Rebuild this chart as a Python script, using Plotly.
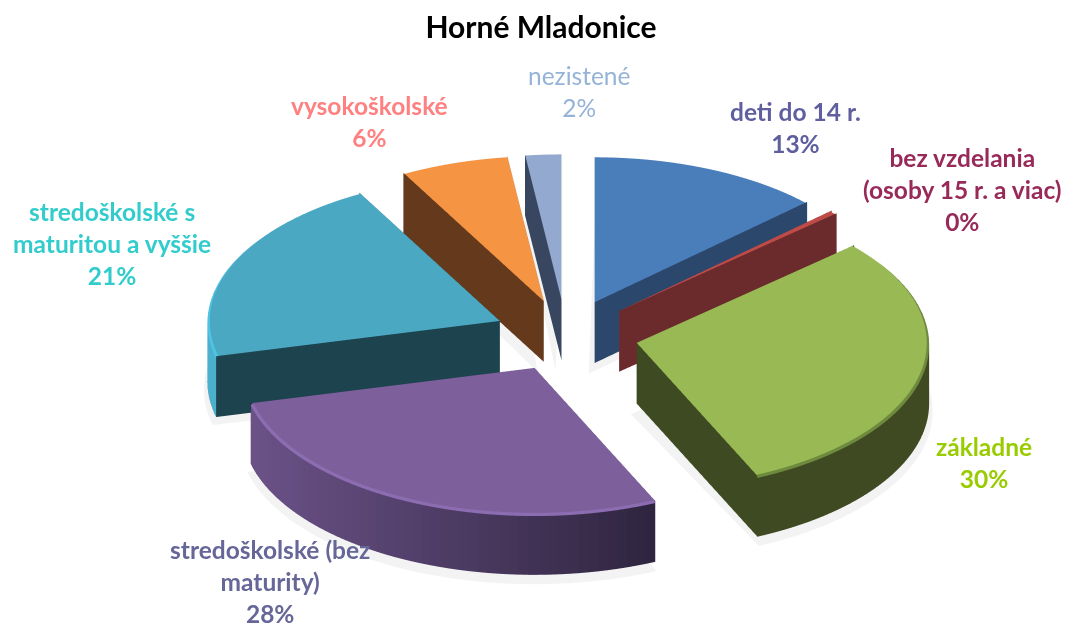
import math
import plotly.graph_objects as go

TITLE = "Horné Mladonice"
CATEGORIES = ["deti do 14 r.", "bez vzdelania<br>(osoby 15 r. a viac)", "základné",
              "stredoškolské (bez<br>maturity)", "stredoškolské s<br>maturitou a vyššie",
              "vysokoškolské", "nezistené"]
VALUES = [13.0, 0.4, 30.0, 28.0, 21.0, 6.0, 2.0]
PERCENT_LABELS = ["13%", "0%", "30%", "28%", "21%", "6%", "2%"]
TOP_COLORS = ["#4A7EBB", "#BE4B48", "#98B954", "#7D5F9B", "#4AA8C2", "#F59443", "#93A9CF"]
RIM_COLORS = ["#4A7EBB", "#BE4B48", "#6E8A3E", "#8C6DB2", "#4FC3E3", "#F59443", "#93A9CF"]
CUT_COLORS = ["#2B476C", "#6B2A2C", "#3E4A22", "#3A2A50", "#1D434E", "#65391B", "#394660"]
SIDE_LEFT = ["#2B476C", "#6B2A2C", "#3F4A22", "#6C5389", "#4AB0CC", "#65391B", "#394660"]
SIDE_RIGHT = ["#2B476C", "#6B2A2C", "#3F4A22", "#2F2540", "#4AB0CC", "#65391B", "#394660"]
SHADOW_COLOR = "#F3F3F3"
LABEL_COLORS = ["#5F5F9F", "#982A5A", "#99CC00", "#666699", "#33CCCC", "#FF8080", "#95B3D7"]
LABEL_BOLD = [True, True, True, True, True, True, False]
LABEL_POS = [(795, 128), (962, 189), (984, 462), (270, 581), (112, 244), (369, 122), (579, 91)]

RADIUS, HEIGHT, EXPLODE, RIM = 1.0, 0.24, 0.247, 0.008
SEG = 2  # degrees per side segment


def rgb(h):
    return [int(h[i:i + 2], 16) for i in (1, 3, 5)]


def mix(h1, h2, t):
    t = min(1.0, max(0.0, t))
    return "rgb(%d,%d,%d)" % tuple(round(a + (b - a) * t) for a, b in zip(rgb(h1), rgb(h2)))


def wedge(a0, a1, top, rim, cut, left, right):
    mid = math.radians((a0 + a1) / 2)
    ox, oy = EXPLODE * math.sin(mid), EXPLODE * math.cos(mid)
    n = max(2, int((a1 - a0) / SEG) + 1)
    ang = [math.radians(a0 + (a1 - a0) * k / n) for k in range(n + 1)]
    X, Y, Z, I, J, K, C = [], [], [], [], [], [], []

    def tri(p, q, r, col):
        b = len(X)
        for v in (p, q, r):
            X.append(v[0] + ox)
            Y.append(v[1] + oy)
            Z.append(v[2])
        I.append(b); J.append(b + 1); K.append(b + 2); C.append(col)

    def pt(a, r, z):
        return (r * math.sin(a), r * math.cos(a), z)

    o_t, o_b = (0, 0, HEIGHT), (0, 0, 0)
    r_in = RADIUS - RIM
    zs = HEIGHT - RIM
    zsh, rsh = -0.03, RADIUS + 0.012
    for a, b in zip(ang, ang[1:]):
        tri(o_t, pt(a, r_in, HEIGHT), pt(b, r_in, HEIGHT), top)
        tri(pt(a, r_in, HEIGHT), pt(b, r_in, HEIGHT), pt(b, RADIUS, zs), rim)
        tri(pt(a, r_in, HEIGHT), pt(b, RADIUS, zs), pt(a, RADIUS, zs), rim)
        s = math.sin((a + b) / 2)
        col = mix(left, right, (s + 1) / 1.4)
        tri(pt(a, RADIUS, zs), pt(b, RADIUS, zs), pt(b, RADIUS, 0), col)
        tri(pt(a, RADIUS, zs), pt(b, RADIUS, 0), pt(a, RADIUS, 0), col)
        tri(o_b, pt(a, RADIUS, 0), pt(b, RADIUS, 0), cut)
        tri((-0.02, -0.02, zsh), pt(a, rsh, zsh), pt(b, rsh, zsh), SHADOW_COLOR)
    for a in (ang[0], ang[-1]):
        tri(o_t, o_b, pt(a, RADIUS, 0), cut)
        tri(o_t, pt(a, RADIUS, 0), pt(a, RADIUS, HEIGHT), cut)
    return X, Y, Z, I, J, K, C


fig = go.Figure()
total = sum(VALUES)
start = 0.0
for name, val, top, rim, cut, left, right in zip(CATEGORIES, VALUES, TOP_COLORS, RIM_COLORS, CUT_COLORS,
                                                 SIDE_LEFT, SIDE_RIGHT):
    end = start + val / total * 360
    x, y, z, i, j, k, c = wedge(start, end, top, rim, cut, left, right)
    fig.add_trace(go.Mesh3d(x=x, y=y, z=z, i=i, j=j, k=k, facecolor=c, flatshading=True,
                            lighting=dict(ambient=1, diffuse=0, specular=0, fresnel=0, roughness=1),
                            name=name.replace("<br>", " "), hoverinfo="name", showscale=False))
    start = end

hidden = dict(visible=False, showgrid=False, zeroline=False, showbackground=False)
anns = []
for cat, pct, col, bold, (px, py) in zip(CATEGORIES, PERCENT_LABELS, LABEL_COLORS, LABEL_BOLD, LABEL_POS):
    t = f"{cat}<br>{pct}"
    if bold:
        t = "<b>" + t.replace("<br>", "</b><br><b>") + "</b>"
    anns.append(dict(text=t, x=px / 1068, y=1 - py / 624, xref="paper", yref="paper", showarrow=False,
                     font=dict(family="Lato, Carlito, sans-serif", size=24.5, color=col), align="center",
                     xanchor="center", yanchor="middle"))

fig.update_layout(
    width=1068, height=624, margin=dict(l=0, r=0, t=0, b=0), showlegend=False,
    paper_bgcolor="white",
    title=dict(text="<b>" + TITLE + "</b>", x=541 / 1068, y=1 - 27 / 624, xanchor="center", yanchor="middle",
               font=dict(family="Lato, Carlito, sans-serif", size=30, color="black")),
    annotations=anns,
    scene=dict(
        domain=dict(x=[0.06, 1], y=[0, 0.923]),
        xaxis=dict(hidden, range=[-1.3, 1.3]), yaxis=dict(hidden, range=[-1.3, 1.3]),
        zaxis=dict(hidden, range=[-0.5, 0.8]),
        aspectmode="manual", aspectratio=dict(x=2.64, y=2.64, z=1.32),
        camera=dict(eye=dict(x=0, y=-1.0, z=0.666), center=dict(x=0, y=0, z=0.089), up=dict(x=0, y=0, z=1),
                    projection=dict(type="orthographic")),
    ),
)
fig.write_html("out.html", post_script="document.body.style.margin='0';", config=dict(displayModeBar=False))
